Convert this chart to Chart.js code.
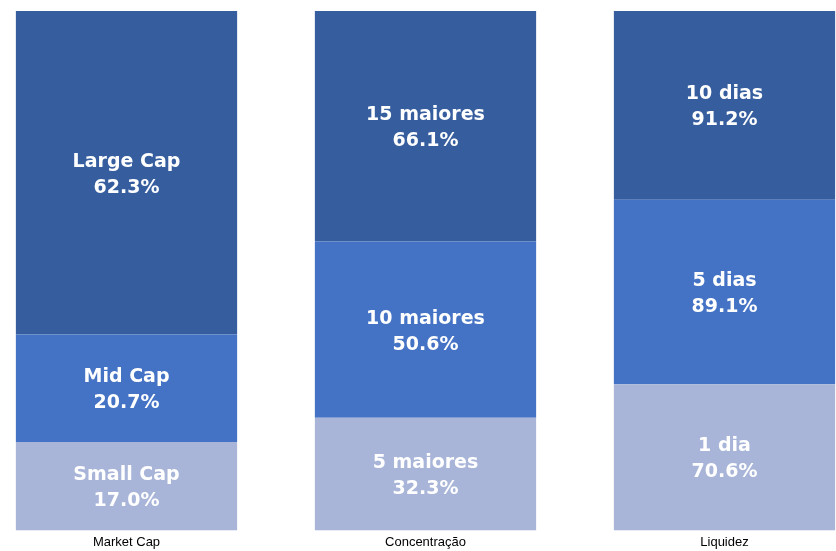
<!DOCTYPE html>
<html>
<head>
<meta charset="utf-8">
<script src="https://cdn.jsdelivr.net/npm/chart.js@4/dist/chart.umd.min.js"></script>
<style>
    html, body { margin: 0; padding: 0; background: #fff; overflow: hidden; }
    body { width: 836px; height: 551px; position: relative; }
    #wrap { position: absolute; left: -23px; top: 0; width: 897px; height: 559px; }
</style>
</head>
<body>
<div id="wrap"><canvas id="compChart"></canvas></div>
<script>
const categories = ['Market Cap', 'Concentração', 'Liquidez'];

const bottomNames = ['Small Cap', '5 maiores', '1 dia'];
const midNames = ['Mid Cap', '10 maiores', '5 dias'];
const topNames = ['Large Cap', '15 maiores', '10 dias'];

const bottomValues = [17.0, 32.3, 70.6];
const midValues = [20.7, 50.6, 89.1];
const topValues = [62.3, 66.1, 91.2];

// 100% stacked: each segment is its share of the column total
function share(values, i) {
    const total = bottomValues[i] + midValues[i] + topValues[i];
    return values[i] / total * 100;
}
function shares(values) {
    return values.map((v, i) => share(values, i));
}

const data = {
    labels: categories,
    datasets: [
        { label: 'bottom', data: shares(bottomValues), names: bottomNames, raw: bottomValues, backgroundColor: 'rgb(168,181,216)' },
        { label: 'mid', data: shares(midValues), names: midNames, raw: midValues, backgroundColor: 'rgb(68,114,196)' },
        { label: 'top', data: shares(topValues), names: topNames, raw: topValues, backgroundColor: 'rgb(54,94,159)' }
    ]
};

// white two-line labels in the middle of each segment
const segmentLabels = {
    id: 'segmentLabels',
    afterDatasetsDraw(chart) {
        const ctx = chart.ctx;
        ctx.save();
        ctx.fillStyle = '#fff';
        ctx.font = 'bold 19px "DejaVu Sans", sans-serif';
        ctx.textAlign = 'center';
        ctx.textBaseline = 'middle';
        chart.data.datasets.forEach((ds, di) => {
            chart.getDatasetMeta(di).data.forEach((bar, i) => {
                const cy = (bar.y + bar.base) / 2;
                ctx.fillText(ds.names[i], bar.x, cy - 11);
                ctx.fillText(ds.raw[i].toFixed(1) + '%', bar.x, cy + 15);
            });
        });
        ctx.restore();
    }
};

const config = {
    type: 'bar',
    data,
    options: {
        responsive: true,
        maintainAspectRatio: false,
        animation: false,
        layout: { padding: { top: 11, bottom: 5, left: 0, right: 0 } },
        plugins: { legend: { display: false }, tooltip: { enabled: false } },
        datasets: { bar: { barPercentage: 0.74, categoryPercentage: 1, borderWidth: 0 } },
        scales: {
            x: {
                stacked: true,
                grid: { display: false, drawTicks: false },
                border: { display: false },
                ticks: { color: '#000', padding: 4, font: { family: '"Liberation Sans", sans-serif', size: 13 } }
            },
            y: {
                stacked: true,
                display: false,
                min: 0,
                max: 100
            }
        }
    },
    plugins: [segmentLabels]
};

const chart1 = new Chart(document.getElementById('compChart'), config);
</script>
</body>
</html>
